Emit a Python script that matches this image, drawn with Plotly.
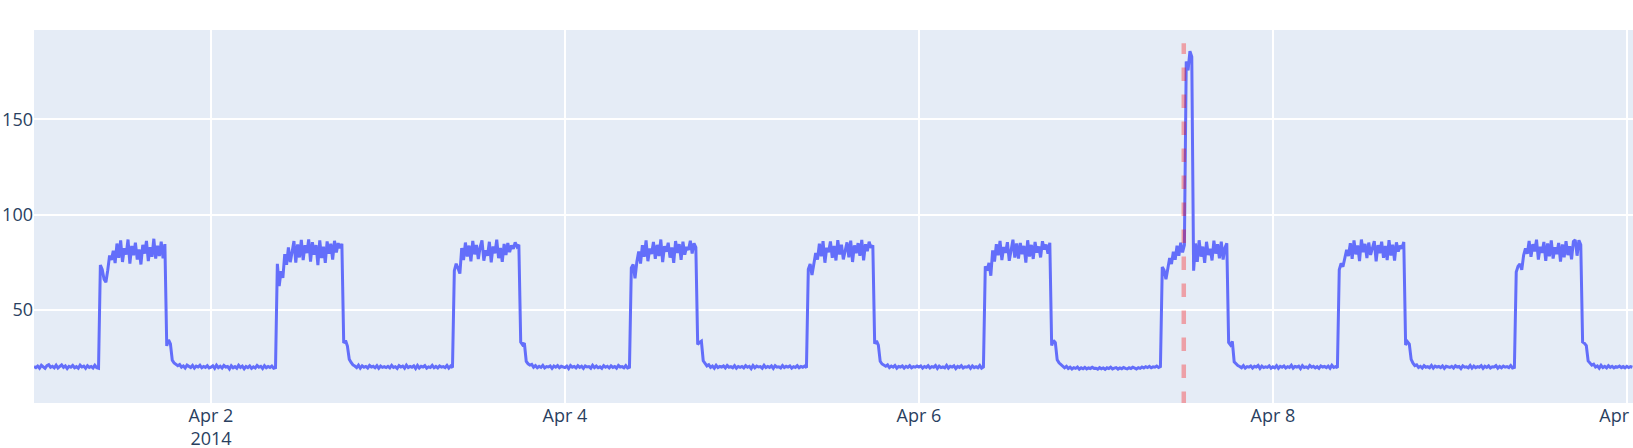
import pandas as pd
import plotly.graph_objects as go

start_time = "2014-04-01 00:00"
sample_step = "15min"

# Apr 1
m1 = [20.1,19.6,20.4,19.3,20.8,19.9,19.2,20.6,21.1,19.8,20.3,19.5,20.9,19.4,20.2,21.0,19.7,20.5,19.1,20.3,19.8,20.7,19.5,20.1,19.3,20.9,19.9,20.4,19.2,20.6,19.7,20.2,19.4,20.8,19.6,19.3]
p1 = [73.5,71.2,66.0,64.5,70.8,78.5,76.2,81.0,74.5,84.8,77.3,86.5,75.1,82.4,79.0,86.9,74.2,83.5,78.6,85.2,76.4,81.7,73.8,84.1,79.5,86.2,75.6,82.9,77.8,87.3,76.9,83.6,78.2,85.8,77.0,84.5]
e1 = [31.0,34.2,32.1,23.5,22.0,21.4,20.6,21.2,19.8,20.5,19.4,20.9,20.1,19.6,20.7,19.3,20.4,19.9,20.8,19.5,20.2,19.7,20.6,19.4]
# Apr 2
m2 = [19.8,20.5,19.2,20.9,19.6,20.3,19.4,20.7,19.9,20.2,18.9,20.6,19.5,20.1,19.3,20.8,19.7,20.4,19.0,20.2,19.6,20.5,19.2,20.0,19.4,20.7,19.8,20.3,19.1,20.6,19.5,20.2,19.7,20.4,19.3,19.6]
p2 = [74.1,62.5,70.3,66.8,79.2,73.6,82.8,75.0,80.4,86.1,74.8,84.3,77.5,86.7,76.1,83.9,79.8,87.0,75.3,85.5,78.9,84.0,73.5,86.4,77.2,83.1,74.6,85.9,79.4,84.7,76.3,86.2,80.1,85.0,82.3,84.6]
e2 = [32.5,33.8,30.9,24.0,22.3,21.0,20.4,19.6,20.9,19.3,20.5,19.8,20.2,19.4,20.7,19.9,20.3,19.5,20.6,19.2,20.4,19.7,20.1,19.6]
# Apr 3
m3 = [20.3,19.5,20.8,19.7,20.1,19.2,20.6,19.9,20.4,19.3,20.9,19.6,20.2,19.8,20.5,19.1,20.7,19.4,20.3,19.9,20.6,19.3,20.0,19.7,20.8,19.5,20.2,19.4,20.5,19.8,20.1,19.6,20.7,19.3,20.4,19.7]
p3 = [70.5,74.2,71.8,69.0,82.4,76.1,85.3,78.0,83.7,75.4,86.2,79.1,84.0,76.6,82.9,86.5,75.8,81.2,78.4,85.7,74.9,83.3,79.6,86.8,77.1,82.5,75.2,84.6,78.7,85.1,80.3,83.8,82.0,85.4,83.1,84.2]
e3 = [33.0,31.6,32.4,22.8,21.6,20.9,21.3,19.8,20.6,19.5,20.3,19.7,20.8,19.4,20.1,19.9,20.5,19.2,20.4,19.8,20.6,19.5,20.3,19.9]
# Apr 4
m4 = [19.6,20.4,19.1,20.7,19.8,20.2,19.4,20.6,19.7,20.3,19.2,20.5,19.9,20.1,19.3,20.8,19.6,20.4,19.5,20.0,19.2,20.6,19.8,20.3,19.4,20.5,19.7,20.2,19.3,20.7,19.9,20.1,19.5,20.6,19.4,19.8]
p4 = [72.0,73.8,66.5,75.2,80.6,74.3,83.9,77.8,86.4,75.5,82.2,79.3,85.6,76.8,84.1,78.2,86.9,75.0,83.4,80.5,85.2,77.4,82.7,74.6,86.1,79.8,84.5,76.2,85.8,78.9,83.0,81.4,86.3,79.6,84.9,82.8]
e4 = [31.8,32.9,33.5,23.2,21.8,20.5,21.1,19.7,20.4,19.3,20.8,19.6,20.2,19.9,20.5,19.4,20.7,19.8,20.1,19.5,20.6,19.3,20.2,19.7]
# Apr 5
m5 = [20.2,19.4,20.6,19.8,20.3,19.1,20.7,19.5,20.4,19.9,20.1,19.3,20.8,19.6,20.2,19.7,20.5,19.2,20.6,19.8,20.0,19.4,20.7,19.6,20.3,19.9,20.5,19.3,20.1,19.7,20.6,19.5,20.2,19.8,20.4,19.6]
p5 = [71.3,74.0,68.2,73.5,79.8,76.4,84.7,78.1,86.0,74.7,82.6,80.2,85.9,77.3,83.5,75.9,86.6,79.0,84.2,76.5,82.1,85.4,77.6,86.3,75.1,83.8,79.7,85.0,78.3,86.7,76.0,84.4,80.8,85.7,82.5,83.9]
e5 = [32.2,33.6,31.4,22.9,21.5,20.8,20.3,21.0,19.6,20.4,19.8,20.7,19.3,20.2,19.9,20.5,19.4,20.3,19.7,20.6,19.5,20.1,19.8,20.4]
# Apr 6
m6 = [19.9,20.5,19.3,20.2,19.7,20.6,19.4,20.1,19.8,20.7,19.2,20.4,19.6,20.0,19.5,20.8,19.3,20.3,19.9,20.5,19.1,20.2,19.7,20.6,19.4,20.0,19.8,20.4,19.2,20.5,19.6,20.1,19.5,20.7,19.3,19.9]
p6 = [72.8,70.5,74.6,67.9,81.2,75.3,84.4,78.6,86.2,76.1,83.0,79.9,85.5,75.7,82.3,86.8,77.4,84.8,76.9,85.1,79.2,83.6,74.8,86.5,78.0,84.1,76.7,85.6,80.0,83.3,77.5,86.0,81.6,84.3,79.4,85.2]
e6 = [31.2,33.9,32.7,23.7,22.1,21.2,20.4,19.5,20.3,19.1,19.8,18.9,19.6,19.2,19.9,18.8,19.5,19.0,19.7,18.9,19.4,19.1,19.8,19.2]
# Apr 7 (with the spike)
m7 = [19.3,18.8,19.6,19.0,19.4,18.7,19.5,19.1,19.8,18.9,19.3,19.6,18.8,19.4,19.0,19.7,19.2,18.9,19.5,19.1,19.8,19.3,18.9,19.6,19.2,19.9,19.4,20.1,19.6,20.3,19.5,20.0,19.8,20.4,19.7,20.2]
p7 = [72.5,70.8,66.0,71.5,77.2,74.0,80.5,76.3,83.6,78.4,85.2,80.1,84.0,180.5,175.8,185.9,183.0,70.5,84.8,75.2,86.5,77.9,83.2,74.6,85.7,78.8,82.0,75.9,86.3,79.5,84.4,77.0,85.8,76.4,82.6,84.9]
e7 = [32.8,31.5,33.4,22.6,21.4,20.7,20.2,19.5,20.6,19.3,20.1,19.8,20.5,19.4,20.3,19.9,20.7,19.2,20.4,19.6,20.0,19.7,20.5,19.3]
# Apr 8
m8 = [20.0,19.5,20.6,19.2,20.3,19.8,20.5,19.4,20.1,19.7,20.8,19.3,20.2,19.9,20.4,19.1,20.6,19.6,20.0,19.4,20.7,19.8,20.3,19.5,20.1,19.2,20.5,19.9,20.2,19.6,20.4,19.3,20.8,19.7,20.1,19.5]
p8 = [71.0,74.4,72.6,76.9,81.5,78.2,85.0,76.7,86.4,79.1,83.8,75.6,86.9,80.3,84.6,77.1,85.3,78.8,82.4,86.1,75.4,84.0,79.7,85.8,77.3,83.5,76.1,86.6,78.5,84.2,75.8,85.4,80.6,83.7,82.1,85.6]
e8 = [31.5,33.2,32.0,23.9,21.9,20.6,21.0,19.7,20.3,19.4,20.6,19.8,20.1,19.5,20.7,19.3,20.4,19.9,20.2,19.6,20.5,19.2,20.3,19.8]
# Apr 9
m9 = [19.7,20.3,19.4,20.6,19.9,20.2,19.1,20.5,19.8,20.0,19.5,20.7,19.3,20.4,19.6,20.1,19.8,20.6,19.2,20.3,19.7,20.5,19.4,20.0,19.9,20.6,19.3,20.2,19.5,20.4,19.8,20.1,19.6,20.7,19.4,19.7]
p9 = [69.8,72.9,74.1,71.0,78.6,82.3,79.4,86.2,77.8,84.5,80.7,86.8,76.4,83.1,79.9,85.6,75.7,84.8,78.1,86.4,76.9,82.8,79.3,85.1,75.3,84.3,77.6,86.0,78.7,83.4,76.5,85.9,86.7,78.4,86.5,84.1]
e9 = [33.1,32.4,31.2,23.1,21.7,20.9,21.4,19.9,20.5,19.3,20.8,19.6,20.2,19.4,20.6,19.7,20.3,19.5,20.1,19.8,20.4,19.6,20.2,19.5]
# Apr 10 (start)
tail = [20.3,19.6,20.1,19.8]

anomaly_x = ["2014-04-07 11:55", "2014-04-07 11:55"]
anomaly_y = [0, 190]

x_range = ["2014-04-01 00:00", "2014-04-10 00:50"]
y_range = [1, 197]

values = (m1 + p1 + e1 + m2 + p2 + e2 + m3 + p3 + e3 + m4 + p4 + e4 + m5 + p5 + e5
          + m6 + p6 + e6 + m7 + p7 + e7 + m8 + p8 + e8 + m9 + p9 + e9 + tail)
times = pd.date_range(start_time, periods=len(values), freq=sample_step)

fig = go.Figure()
fig.add_trace(go.Scatter(x=times, y=values, mode="lines",
                         line=dict(color="#636efa", width=3), showlegend=False))
fig.add_trace(go.Scatter(x=pd.to_datetime(anomaly_x), y=anomaly_y, mode="lines",
                         line=dict(color="rgba(255,0,0,0.32)", width=4.5, dash="dash"),
                         showlegend=False))

fig.update_layout(
    template="plotly",
    width=1633,
    height=448,
    margin=dict(l=34, r=0, t=30, b=45),
    font=dict(size=18),
    showlegend=False,
    paper_bgcolor="white",
    plot_bgcolor="#E5ECF6",
)
fig.update_xaxes(range=pd.to_datetime(x_range), dtick=2 * 86400000, tick0="2014-04-02",
                 automargin=False, gridwidth=1.5, showgrid=True,
                 ticklabeloverflow="allow")
fig.update_yaxes(range=y_range, dtick=50, tick0=0, automargin=False, gridwidth=1.5,
                 zeroline=False)

fig.write_html(
    "out.html",
    config={"displayModeBar": False},
    post_script=(
        "document.documentElement.style.overflow='hidden';"
        "document.body.style.margin='0';"
        "document.body.style.padding='0';"
    ),
)
